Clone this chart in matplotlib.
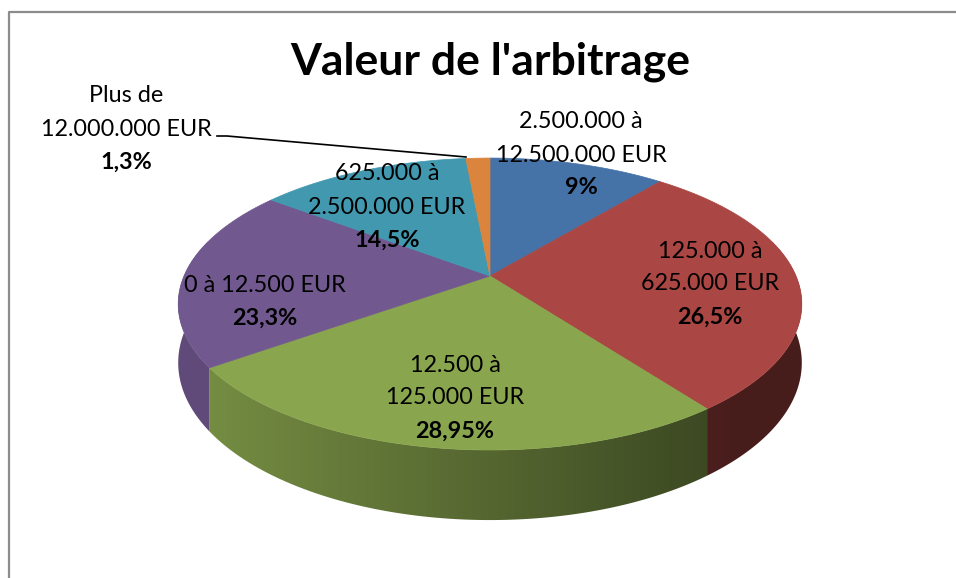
import numpy as np
import matplotlib
matplotlib.use("Agg")
import matplotlib.pyplot as plt
from matplotlib.patches import Polygon
from matplotlib.colors import to_rgb

# ---- data (clockwise from 12 o'clock) ----
categories = ["2.500.000 à\n12.500.000 EUR", "125.000 à\n625.000 EUR",
              "12.500 à\n125.000 EUR", "0 à 12.500 EUR",
              "625.000 à\n2.500.000 EUR", "Plus de\n12.000.000 EUR"]
pct_labels = ["9%", "26,5%", "28,95%", "23,3%", "14,5%", "1,3%"]
values = [11.0, 28.75, 25.4, 20.15, 13.2, 1.5]   # slice sizes as drawn
colors = ["#4572A7", "#AA4643", "#89A54E", "#71588F", "#4198AF", "#DB843D"]
title = "Valeur de l'arbitrage"

# label anchor (centre of percentage line), layout only
label_xy = [(581, 188), (710, 317), (455, 431), (265, 318), (387, 240), (126, 162)]

plt.rcParams["font.family"] = ["Lato", "DejaVu Sans"]

fig = plt.figure(figsize=(9.56, 5.78), dpi=100)
ax = fig.add_axes([0, 0, 1, 1])
ax.set_xlim(0, 956)
ax.set_ylim(578, 0)
ax.axis("off")

# chart frame
ax.plot([9, 9, 956], [578, 12, 12], color="#8c8c8c", lw=1.6, solid_capstyle="butt")

CX, CY, A, B, K, DEPTH = 490, 276, 306, 140.6, 0.192, 56.6


def proj(theta, z=0.0):
    t = np.radians(theta)
    X, Y = np.sin(t), np.cos(t)
    w = 1 + K * Y
    return CX + A * X / w, CY - B * Y / w + z * DEPTH / w


cum = np.concatenate([[0], np.cumsum(values)]) / sum(values) * 360

# side walls (front part only), smooth horizontal shading
xs = np.linspace(170, 810, 641)
shade = np.clip(0.62 - 0.25 * (xs - CX) / A, 0.42, 0.85)
for i, (a0, a1) in enumerate(zip(cum[:-1], cum[1:])):
    lo, hi = max(a0, 75.0), min(a1, 285.0)
    if hi <= lo:
        continue
    ts = np.linspace(lo, hi, max(4, int((hi - lo) * 3)))
    top = [proj(t) for t in ts]
    bot = [proj(t, 1) for t in ts[::-1]]
    poly = Polygon(top + bot, closed=True, fc="none", ec="none")
    ax.add_patch(poly)
    base = np.array(to_rgb(colors[i]))
    img = (shade[:, None] * base[None, :])[None, :, :]
    im = ax.imshow(img, extent=(170, 810, 560, 150), aspect="auto",
                   interpolation="bilinear", zorder=1)
    im.set_clip_path(poly)

for i, (a0, a1) in enumerate(zip(cum[:-1], cum[1:])):
    ts = np.linspace(a0, a1, max(3, int((a1 - a0) * 2)))
    pts = [(CX, CY)] + [proj(t) for t in ts]
    ax.add_patch(Polygon(pts, closed=True, fc=colors[i], ec=colors[i], lw=0.5, zorder=2))

ax.set_xlim(0, 956)
ax.set_ylim(578, 0)

# leader line for the small slice
ax.plot([217, 227, 466], [136, 136, 157], color="black", lw=1.2, zorder=3)

# labels
LS = 33
for cat, pct, (x, y) in zip(categories, pct_labels, label_xy):
    lines = cat.split("\n")
    for j, ln in enumerate(lines):
        yy = y - LS * (len(lines) - j)
        ax.text(x, yy, ln, ha="center", va="center", fontsize=16.8, color="black", zorder=4)
    ax.text(x, y, pct, ha="center", va="center", fontsize=16.8,
            fontweight="bold", color="black", zorder=4)

ax.text(490, 62, title, ha="center", va="center", fontsize=32,
        fontweight="bold", color="black", zorder=4)

fig.savefig("out.png", dpi=100)
